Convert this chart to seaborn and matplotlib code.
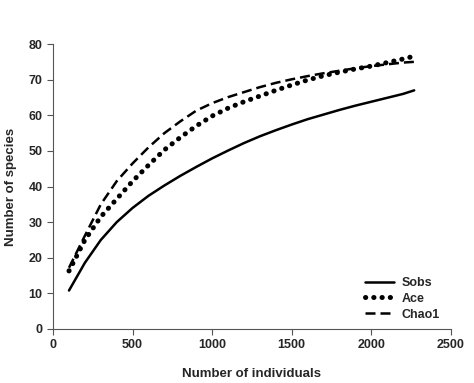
import numpy as np
import pandas as pd
import matplotlib
matplotlib.use("Agg")
import matplotlib.pyplot as plt
import seaborn as sns

individuals = [100, 200, 300, 400, 500, 600, 700, 800, 900, 1000, 1100, 1200,
               1300, 1400, 1500, 1600, 1700, 1800, 1900, 2000, 2100, 2200, 2270]
sobs = [10.8, 18.6, 25, 30, 34, 37.4, 40.3, 43, 45.5, 47.9, 50.1, 52.2,
        54.1, 55.8, 57.4, 58.9, 60.2, 61.5, 62.7, 63.8, 64.9, 66, 67]
ace = [16.3, 25, 31.5, 36.5, 41.5, 46, 50.3, 53.8, 57, 59.8, 62, 63.8,
       65.4, 67, 68.5, 69.9, 71.1, 72.1, 73, 73.8, 74.8, 75.8, 76.6]
chao1 = [17.2, 26.2, 35, 41.5, 46.5, 51, 55, 58.3, 61.3, 63.4, 65.1, 66.5,
         67.9, 69.1, 70.1, 71, 71.8, 72.5, 73.2, 73.8, 74.3, 74.8, 75]

df = pd.DataFrame({"Individuals": individuals * 3,
                   "Species": sobs + ace + chao1,
                   "Estimator": ["Sobs"] * len(sobs) + ["Ace"] * len(ace) + ["Chao1"] * len(chao1)})

sns.set_style("ticks")
plt.rcParams['font.family'] = ['Liberation Sans', 'DejaVu Sans']
plt.rcParams['font.weight'] = 'bold'

fig = plt.figure(figsize=(4.74, 3.83), dpi=100)
ax = fig.add_axes([0.112, 0.141, 0.839, 0.744])

# line style per estimator, all black
styles = {"Sobs": dict(linestyle='-', lw=1.8),
          "Ace": dict(linestyle=(0, (0.05, 1.6)), lw=3.6, dash_capstyle='round'),
          "Chao1": dict(linestyle=(0, (4, 2)), lw=1.8)}
for name, st in styles.items():
    sub = df[df.Estimator == name]
    sns.lineplot(data=sub, x="Individuals", y="Species", color='black', ax=ax, label=name, **st)

ax.set_xlim(0, 2500)
ax.set_ylim(0, 80)
ax.set_xticks(range(0, 2501, 500))
ax.set_yticks(range(0, 81, 10))
ax.tick_params(labelsize=9, length=4, width=0.8, color='#555555')
for lab in ax.get_xticklabels() + ax.get_yticklabels():
    lab.set_fontweight('bold')
ax.set_xlabel("Number of individuals", fontsize=9.5, fontweight='bold', labelpad=12)
ax.set_ylabel("Number of species", fontsize=9.5, fontweight='bold', labelpad=8)
sns.despine(ax=ax)
for s in ['left', 'bottom']:
    ax.spines[s].set_color('#555555')
    ax.spines[s].set_linewidth(0.8)

leg = ax.legend(loc='lower right', frameon=False, fontsize=9, handlelength=2.3,
                labelspacing=0.3, handletextpad=0.6, bbox_to_anchor=(1.0, -0.01))
for t in leg.get_texts():
    t.set_fontweight('bold')

fig.savefig("out.png", dpi=100)
